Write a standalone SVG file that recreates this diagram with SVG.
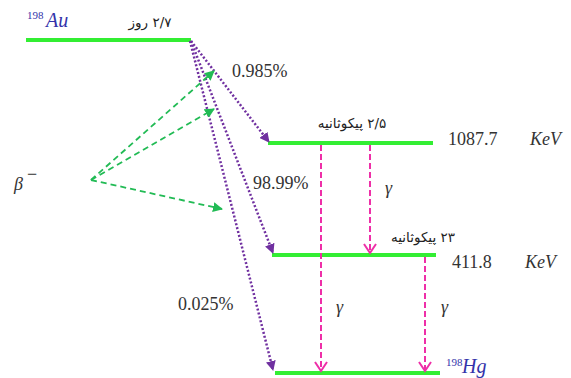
<svg xmlns="http://www.w3.org/2000/svg" width="571" height="378" viewBox="0 0 571 378">
<style>
.lvl{stroke:#33ee33;stroke-width:4;fill:none}
.pur{stroke:#7030a0;stroke-width:2.5;stroke-dasharray:2 2;fill:none}
.grn{stroke:#22bb55;stroke-width:1.8;stroke-dasharray:6 4;fill:none}
.pnk{stroke:#ee2fa8;stroke-width:2;stroke-dasharray:6 3;fill:none}
.num{font-size:18px;fill:#333}
.ital{font-size:18px;font-style:italic;fill:#333}
.iso{font-style:italic;font-size:20px;fill:#3333aa}
.sup{font-size:11px;fill:#3333aa}
.fa{font-family:'DejaVu Sans',sans-serif;font-size:13.5px;fill:#222}
</style>
<defs>
<marker id="mp" markerWidth="10" markerHeight="10" refX="9" refY="5" orient="auto" markerUnits="userSpaceOnUse"><path d="M0,0 L10,5 L0,10 z" fill="#7030a0"/></marker>
<marker id="mg" markerWidth="10" markerHeight="10" refX="9" refY="5" orient="auto" markerUnits="userSpaceOnUse"><path d="M0,0 L10,5 L0,10 z" fill="#22bb55"/></marker>
<marker id="mk" markerWidth="12" markerHeight="14" refX="10" refY="7" orient="auto" markerUnits="userSpaceOnUse"><path d="M1,1 L10,7 L1,13" fill="none" stroke="#ee2fa8" stroke-width="2"/></marker>
</defs>
<g id="level-au"><line class="lvl" x1="26" y1="40" x2="191" y2="40"/></g>
<g id="level-1087"><line class="lvl" x1="268" y1="143" x2="433" y2="143"/></g>
<g id="level-411"><line class="lvl" x1="272" y1="255" x2="436" y2="255"/></g>
<g id="level-hg"><line class="lvl" x1="275" y1="373" x2="440" y2="373"/></g>
<g id="connectors">
<line class="pur" x1="191" y1="41" x2="269" y2="142" marker-end="url(#mp)"/>
<line class="pur" x1="191" y1="41" x2="273" y2="253" marker-end="url(#mp)"/>
<line class="pur" x1="190" y1="41" x2="273" y2="370" marker-end="url(#mp)"/>
<line class="grn" x1="91" y1="180" x2="214" y2="71" marker-end="url(#mg)"/>
<line class="grn" x1="91" y1="180" x2="214" y2="109" marker-end="url(#mg)"/>
<line class="grn" x1="91" y1="180" x2="222" y2="209" marker-end="url(#mg)"/>
<line class="pnk" x1="321" y1="145" x2="321" y2="371" marker-end="url(#mk)"/>
<line class="pnk" x1="370" y1="145" x2="370" y2="253" marker-end="url(#mk)"/>
<line class="pnk" x1="425" y1="257" x2="425" y2="371" marker-end="url(#mk)"/>
</g>
<g id="labels" font-family="Liberation Serif, serif">
<text class="sup" x="27" y="19">198</text>
<text class="iso" x="46" y="27">Au</text>
<text class="fa" x="150" y="27" direction="rtl" text-anchor="middle">۲/۷ روز</text>
<text class="num" x="232" y="77">0.985%</text>
<text class="fa" x="352" y="128" direction="rtl" text-anchor="middle">۲/۵ پیکوثانیه</text>
<text class="num" x="448" y="145">1087.7</text>
<text class="ital" x="530" y="145">KeV</text>
<text class="num" x="253" y="189">98.99%</text>
<text class="ital" x="385" y="194">γ</text>
<text class="fa" x="423" y="242" direction="rtl" text-anchor="middle">۲۳ پیکوثانیه</text>
<text class="num" x="452" y="268">411.8</text>
<text class="ital" x="525" y="268">KeV</text>
<text class="ital" x="14" y="190" font-size="20">β</text>
<text class="num" x="27" y="180" font-size="10">−</text>
<text class="num" x="178" y="310">0.025%</text>
<text class="ital" x="336" y="313">γ</text>
<text class="ital" x="441" y="313">γ</text>
<text class="sup" x="446" y="366">198</text>
<text class="iso" x="462" y="373">Hg</text>
</g>
</svg>
